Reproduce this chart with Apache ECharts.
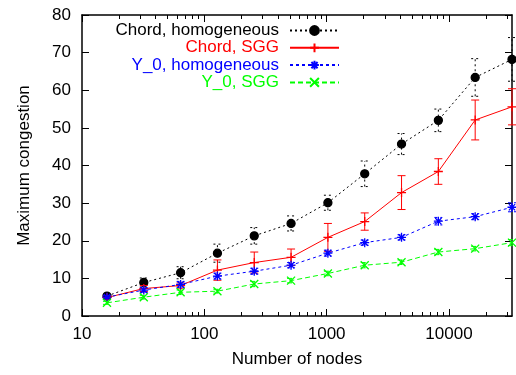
<!DOCTYPE html>
<html>
<head>
<meta charset="utf-8">
<script src="https://cdn.jsdelivr.net/npm/echarts@6/dist/echarts.min.js"></script>
<style>
  html, body { margin: 0; padding: 0; background: #fff; }
  #chart { width: 516px; height: 375px; }
</style>
</head>
<body>
<div id="chart"></div>
<script>
const nodes = [16, 32, 64, 128, 256, 512, 1024, 2048, 4096, 8192, 16384, 32768];

const chordHom = [5.3, 8.9, 11.5, 16.7, 21.3, 24.6, 30.1, 37.8, 45.7, 52.0, 63.4, 68.2];
const chordHomErr = [0.5, 1.2, 1.6, 2.4, 2.2, 2.0, 2.0, 3.4, 2.8, 3.0, 5.0, 5.8];

const chordSgg = [4.9, 7.3, 8.1, 12.2, 14.2, 15.6, 20.9, 25.1, 32.8, 38.4, 52.1, 55.6];
const chordSggErr = [0.5, 0.8, 0.7, 2.7, 2.8, 2.2, 3.7, 2.3, 4.5, 3.4, 5.3, 4.8];

const y0Hom = [5.0, 6.9, 8.4, 10.6, 11.9, 13.5, 16.7, 19.5, 20.9, 25.2, 26.4, 28.9];
const y0HomErr = [0.4, 0.6, 0.8, 0.8, 0.8, 0.7, 0.8, 0.7, 0.7, 1.0, 0.8, 1.2];

const y0Sgg = [3.5, 5.0, 6.3, 6.6, 8.5, 9.4, 11.3, 13.5, 14.3, 17.0, 17.9, 19.5];
const y0SggErr = [0.4, 0.5, 0.6, 0.5, 0.7, 0.6, 0.6, 0.7, 0.6, 0.7, 0.6, 0.8];

const xMajor = [10, 100, 1000, 10000];
const xMinor = [20, 30, 40, 50, 60, 70, 80, 90, 200, 300, 400, 500, 600, 700, 800, 900,
  2000, 3000, 4000, 5000, 6000, 7000, 8000, 9000, 20000, 30000];

const font = "'Liberation Sans', Arial, sans-serif";

const seriesDefs = [
  { name: "Chord, homogeneous", values: chordHom, errs: chordHomErr, color: "#000000",
    dash: [2, 3], symbol: "circle", size: 8 },
  { name: "Chord, SGG", values: chordSgg, errs: chordSggErr, color: "#ff0000",
    dash: "solid", symbol: "path://M0,5L10,5M5,0L5,10", size: 9 },
  { name: "Y_0, homogeneous", values: y0Hom, errs: y0HomErr, color: "#0000ff",
    dash: [3, 3], symbol: "path://M0,5L10,5M5,0L5,10M1.5,1.5L8.5,8.5M8.5,1.5L1.5,8.5", size: 9 },
  { name: "Y_0, SGG", values: y0Sgg, errs: y0SggErr, color: "#00ff00",
    dash: [5, 3], symbol: "path://M0,0L10,10M10,0L0,10", size: 8 },
];

const chart = echarts.init(document.getElementById("chart"), null, { renderer: "canvas" });

const series = [];
seriesDefs.forEach((def, i) => {
  const errData = nodes.map((n, k) => [n, def.values[k] - def.errs[k], def.values[k] + def.errs[k]]);
  series.push({
    name: "err" + i,
    type: "custom",
    z: 2 + i,
    silent: true,
    encode: { x: 0, y: [1, 2] },
    data: errData,
    renderItem: (params, api) => {
      const lo = api.coord([api.value(0), api.value(1)]);
      const hi = api.coord([api.value(0), api.value(2)]);
      const cap = 4;
      const style = { stroke: def.color, lineWidth: 1, lineDash: def.dash === "solid" ? null : def.dash };
      return {
        type: "group",
        children: [
          { type: "line", shape: { x1: lo[0], y1: lo[1], x2: hi[0], y2: hi[1] }, style },
          { type: "line", shape: { x1: lo[0] - cap, y1: lo[1], x2: lo[0] + cap, y2: lo[1] }, style },
          { type: "line", shape: { x1: hi[0] - cap, y1: hi[1], x2: hi[0] + cap, y2: hi[1] }, style },
        ],
      };
    },
  });
  series.push({
    name: def.name,
    type: "line",
    z: 2 + i,
    data: nodes.map((n, k) => [n, def.values[k]]),
    symbol: def.symbol,
    symbolSize: def.size,
    showSymbol: true,
    lineStyle: { color: def.color, width: 1, type: def.dash },
    itemStyle: { color: def.color, borderColor: def.color, borderWidth: 1.3 },
    emphasis: { disabled: true },
  });
});

const axisLine = { show: true, lineStyle: { color: "#000", width: 1.5 } };

chart.setOption({
  animation: false,
  grid: { left: 82, right: 4, top: 15, bottom: 59 },
  legend: {
    orient: "vertical",
    right: 176,
    top: 22,
    padding: 0,
    align: "right",
    itemWidth: 49,
    itemHeight: 11,
    itemGap: 0.3,
    textStyle: { fontSize: 17, fontFamily: font, padding: [0, 6, 0, 0] },
    data: seriesDefs.map((d) => ({ name: d.name, textStyle: { color: d.color } })),
  },
  xAxis: [
    {
      type: "log", logBase: 10, min: 10, max: 32768, position: "bottom",
      axisLine,
      axisTick: { inside: true, length: 7, customValues: xMajor, lineStyle: { color: "#000" } },
      axisLabel: { customValues: xMajor, color: "#000", fontSize: 17, fontFamily: font, margin: 10,
        formatter: (v) => String(Math.round(v)) },
      splitLine: { show: false },
      name: "Number of nodes", nameLocation: "middle", nameGap: 35,
      nameTextStyle: { color: "#000", fontSize: 17, fontFamily: font },
    },
    {
      type: "log", logBase: 10, min: 10, max: 32768, position: "bottom",
      axisLine: { show: false },
      axisTick: { inside: true, length: 4, customValues: xMinor, lineStyle: { color: "#000" } },
      axisLabel: { show: false }, splitLine: { show: false },
    },
    {
      type: "log", logBase: 10, min: 10, max: 32768, position: "top",
      axisLine,
      axisTick: { inside: true, length: 7, customValues: xMajor, lineStyle: { color: "#000" } },
      axisLabel: { show: false }, splitLine: { show: false },
    },
    {
      type: "log", logBase: 10, min: 10, max: 32768, position: "top",
      axisLine: { show: false },
      axisTick: { inside: true, length: 4, customValues: xMinor, lineStyle: { color: "#000" } },
      axisLabel: { show: false }, splitLine: { show: false },
    },
  ],
  yAxis: [
    {
      type: "value", min: 0, max: 80, interval: 10, position: "left",
      axisLine,
      axisTick: { inside: true, length: 7, lineStyle: { color: "#000" } },
      axisLabel: { color: "#000", fontSize: 17, fontFamily: font, margin: 11 },
      splitLine: { show: false },
      name: "Maximum congestion", nameLocation: "middle", nameGap: 49, nameRotate: 90,
      nameTextStyle: { color: "#000", fontSize: 17, fontFamily: font },
    },
    {
      type: "value", min: 0, max: 80, interval: 10, position: "right",
      axisLine,
      axisTick: { inside: true, length: 7, lineStyle: { color: "#000" } },
      axisLabel: { show: false }, splitLine: { show: false },
    },
  ],
  series,
});
</script>
</body>
</html>
